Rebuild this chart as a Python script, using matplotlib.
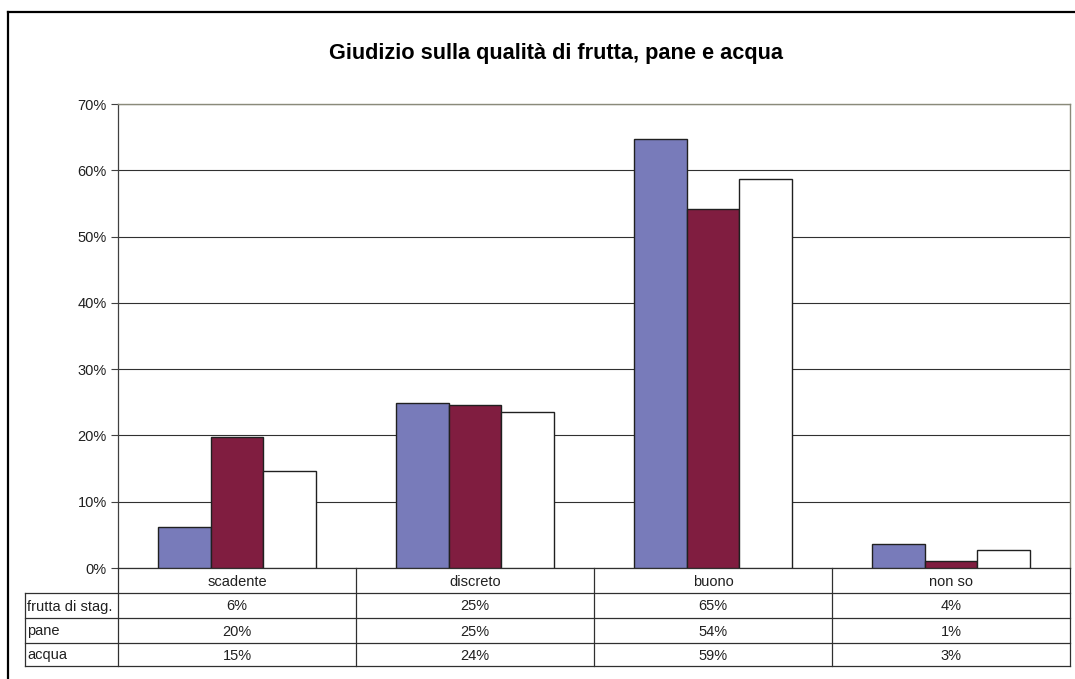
import numpy as np
import matplotlib.pyplot as plt
from matplotlib.lines import Line2D

plt.rcParams['font.family'] = ['Liberation Sans', 'DejaVu Sans']

# dati
categorie = ['scadente', 'discreto', 'buono', 'non so']
serie = ['frutta di stag.', 'pane', 'acqua']
frutta = [6.2, 24.9, 64.7, 3.6]
pane = [19.7, 24.6, 54.1, 1.05]
acqua = [14.6, 23.6, 58.7, 2.7]
valori = [frutta, pane, acqua]
colori = ['#787bba', '#801d40', '#ffffff']

W, H = 1075, 679
fig = plt.figure(figsize=(W / 100, H / 100), dpi=100)
fig.patch.set_facecolor('white')

# area del grafico in pixel
x0, x1, y0, y1 = 118, 1070, 104, 568
ax = fig.add_axes([x0 / W, 1 - y1 / H, (x1 - x0) / W, (y1 - y0) / H])

n = len(categorie)
x = np.arange(n)
bw = 0.22
for k, (vals, col) in enumerate(zip(valori, colori)):
    ax.bar(x + (k - 1) * bw, vals, bw, color=col, edgecolor='#202020',
           linewidth=1.0, zorder=3)

ax.set_xlim(-0.5, n - 0.5)
ax.set_ylim(0, 70)
ax.set_yticks(np.arange(0, 71, 10))
ax.set_yticklabels([f'{v}%' for v in range(0, 71, 10)], fontsize=10.5, color='#202020')
ax.set_xticks([])
ax.tick_params(axis='y', length=5, width=0.8, color='#404040', pad=3)
ax.grid(axis='y', color='#303030', linewidth=0.8, zorder=0)
ax.set_axisbelow(True)
for s in ['top', 'right']:
    ax.spines[s].set_color('#8a8a7a')
    ax.spines[s].set_linewidth(1.0)
ax.spines['left'].set_color('#404040')
ax.spines['bottom'].set_color('#303030')
ax.spines['left'].set_linewidth(0.9)
ax.spines['bottom'].set_linewidth(0.9)

# overlay per titolo, tabella e cornice (coordinate pixel)
ov = fig.add_axes([0, 0, 1, 1], zorder=5)
ov.set_xlim(0, W)
ov.set_ylim(H, 0)
ov.axis('off')
ov.patch.set_alpha(0)

ov.text(556, 53, 'Giudizio sulla qualità di frutta, pane e acqua', ha='center',
        va='center', fontsize=15.7, fontweight='bold', color='black')

# cornice esterna
ov.add_line(Line2D([8, 8], [12, H], color='black', linewidth=1.6))
ov.add_line(Line2D([8, W], [12, 12], color='black', linewidth=1.6))

# tabella dati
fig.canvas.draw()
to_px = lambda xd: (ax.transData.transform((xd, 0))[0])
bordi = [to_px(i - 0.5) for i in range(n + 1)]
righe = [568, 593, 618, 643, 666]
xl = 25
lc = '#303030'
for yy in righe[1:]:
    ov.add_line(Line2D([xl, bordi[-1]], [yy, yy], color=lc, linewidth=0.9))
for xb in bordi:
    ov.add_line(Line2D([xb, xb], [righe[0], righe[-1]], color=lc, linewidth=0.9))
ov.add_line(Line2D([xl, xl], [righe[1], righe[-1]], color=lc, linewidth=0.9))

fs = 10.5
for i, c in enumerate(categorie):
    ov.text((bordi[i] + bordi[i + 1]) / 2, (righe[0] + righe[1]) / 2 + 1, c,
            ha='center', va='center', fontsize=fs, color='#202020')
for r, (nome, vals) in enumerate(zip(serie, valori)):
    yc = (righe[r + 1] + righe[r + 2]) / 2 + 1
    ov.text(xl + 2, yc, nome, ha='left', va='center', fontsize=fs, color='#202020')
    for i, v in enumerate(vals):
        ov.text((bordi[i] + bordi[i + 1]) / 2, yc, f'{v:.0f}%', ha='center',
                va='center', fontsize=fs, color='#202020')

fig.savefig('out.png', dpi=100)
